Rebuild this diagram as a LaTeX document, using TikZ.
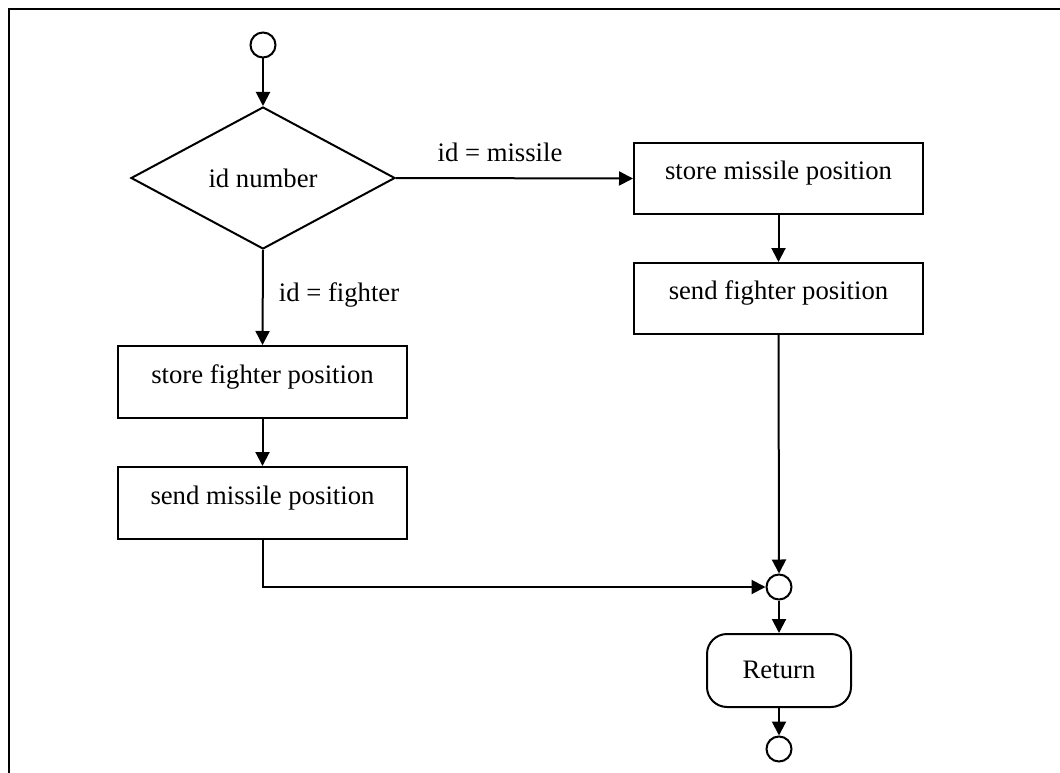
\documentclass[tikz,border=0pt]{standalone}
\usepackage{fontspec}
\setmainfont{Liberation Serif}
\usetikzlibrary{shapes.geometric,arrows.meta}
\begin{document}
\begin{tikzpicture}[x=1pt,y=-1pt,line width=2pt,
  font=\fontsize{26.7}{30}\selectfont,
  arr/.style={-{Triangle[length=14pt,width=14pt]}},
  conn/.style={draw,circle,minimum size=25pt,inner sep=0pt},
  procbox/.style={draw,rectangle,minimum width=289pt,inner sep=0pt,text height=12pt,text depth=10pt},
  decision/.style={draw,diamond,minimum width=264pt,minimum height=142pt,inner sep=0pt},
  term/.style={draw,rectangle,rounded corners=20pt,minimum width=144pt,minimum height=73pt,inner sep=0pt,text height=18pt,text depth=3pt},
  lbl/.style={inner sep=0pt}]
\useasboundingbox (0,0) rectangle (1060,773);
\clip (0,0) rectangle (1060,773);
\draw (9,9) rectangle (1080,800);

\node[conn] (start) at (263,45) {};
\node[decision] (dec) at (263,178) {id number};
\node[procbox,minimum height=72pt] (sfp) at (262.5,382) {store fighter position};
\node[procbox,minimum height=72pt] (smp) at (262.5,503) {send missile position};
\node[procbox,minimum height=71pt] (stm) at (778.5,178.5) {store missile position};
\node[procbox,minimum height=71pt] (sfp2) at (778.5,298.5) {send fighter position};
\node[conn] (merge) at (779,587) {};
\node[term] (ret) at (779,670.5) {Return};
\node[conn] (end) at (779,749) {};

\node[lbl] (lm) at (500,152) {id = missile};
\node[lbl] (lf) at (339,295) {id = fighter};

\draw[arr] (start) -- (dec);
\draw[arr] (dec.east) -- (stm.west);
\draw[arr] (dec.south) -- (sfp.north);
\draw[arr] (sfp) -- (smp);
\draw[arr] (stm) -- (sfp2);
\draw[arr] (sfp2.south) -- (merge.north);
\draw[arr] (smp.south) |- (merge.west);
\draw[arr] (merge) -- (ret);
\draw[arr] (ret) -- (end);
\end{tikzpicture}
\end{document}
